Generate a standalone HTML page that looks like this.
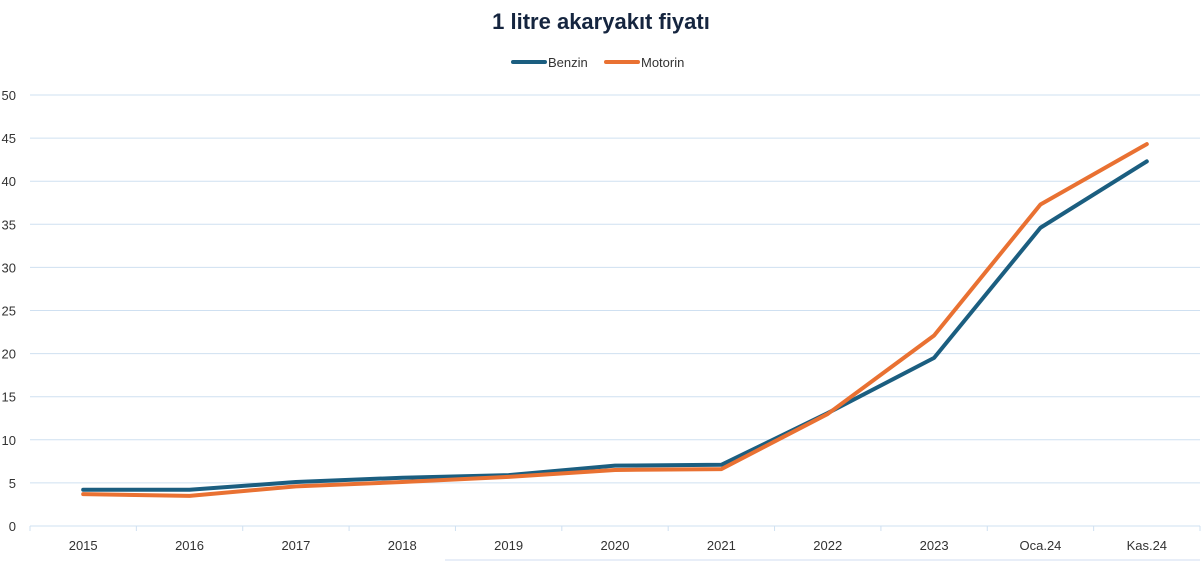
<!DOCTYPE html>
<html><head><meta charset="utf-8"><style>
body{margin:0;background:#fff;}
svg{display:block;font-family:"Liberation Sans",sans-serif;}
</style></head><body>
<svg id="chart" width="1202" height="562">
<text x="601" y="29" text-anchor="middle" font-size="22" font-weight="bold" fill="#15253f">1 litre akaryakıt fiyatı</text>
<g>
<g><line x1="513" y1="62" x2="545" y2="62" stroke="#1b5e80" stroke-width="4" stroke-linecap="round"/><text x="548" y="67" font-size="13" fill="#333">Benzin</text></g>
<g><line x1="606" y1="62" x2="638" y2="62" stroke="#e97132" stroke-width="4" stroke-linecap="round"/><text x="641" y="67" font-size="13" fill="#333">Motorin</text></g>
</g>
<g id="grid"></g>
<g id="yticks"></g>
<g id="xaxis"></g>
<g id="series"></g>
<line x1="445" y1="560" x2="1200" y2="560" stroke="#d0def0" stroke-width="1"/>
</svg>
<script>
const categories=["2015","2016","2017","2018","2019","2020","2021","2022","2023","Oca.24","Kas.24"];
const benzin=[4.2,4.2,5.1,5.6,5.9,7.0,7.1,13.1,19.5,34.6,42.3];
const motorin=[3.7,3.5,4.6,5.1,5.7,6.5,6.6,13.0,22.1,37.3,44.3];
const yTicks=[0,5,10,15,20,25,30,35,40,45,50];
const NS="http://www.w3.org/2000/svg";
const L=30,R=1200,T=95,B=526,yMax=50;
const bw=(R-L)/categories.length;
const x=i=>L+bw*(i+0.5);
const y=v=>B-(v/yMax)*(B-T);
function mk(tag,attrs,parent){const e=document.createElementNS(NS,tag);for(const k in attrs)e.setAttribute(k,attrs[k]);parent.appendChild(e);return e;}
const grid=document.getElementById('grid'),yt=document.getElementById('yticks'),xa=document.getElementById('xaxis'),sr=document.getElementById('series');
yTicks.forEach(v=>{
  const g=mk('line',{x1:L,x2:R,y1:y(v),y2:y(v),stroke:'#cfe0f1','stroke-width':1},grid);
  
  
  const t=mk('text',{x:16,y:y(v)+5,'text-anchor':'end','font-size':13,fill:'#333'},yt);
  t.textContent=v;
  
  
});
for(let i=0;i<=categories.length;i++){
  const tk=mk('line',{x1:L+bw*i,x2:L+bw*i,y1:B,y2:B+5,stroke:'#cfe0f1','stroke-width':1},xa);
  
  
}
categories.forEach((c,i)=>{
  const t=mk('text',{x:x(i),y:550,'text-anchor':'middle','font-size':13,fill:'#333'},xa);
  t.textContent=c;
  
  
});
function line(vals,color,name){
  const p=mk('polyline',{points:vals.map((v,i)=>x(i)+','+y(v)).join(' '),fill:'none',stroke:color,'stroke-width':4,'stroke-linejoin':'round','stroke-linecap':'round'},sr);
  
  
}
line(benzin,'#1b5e80','benzin-line');
line(motorin,'#e97132','motorin-line');
</script>
</body></html>
